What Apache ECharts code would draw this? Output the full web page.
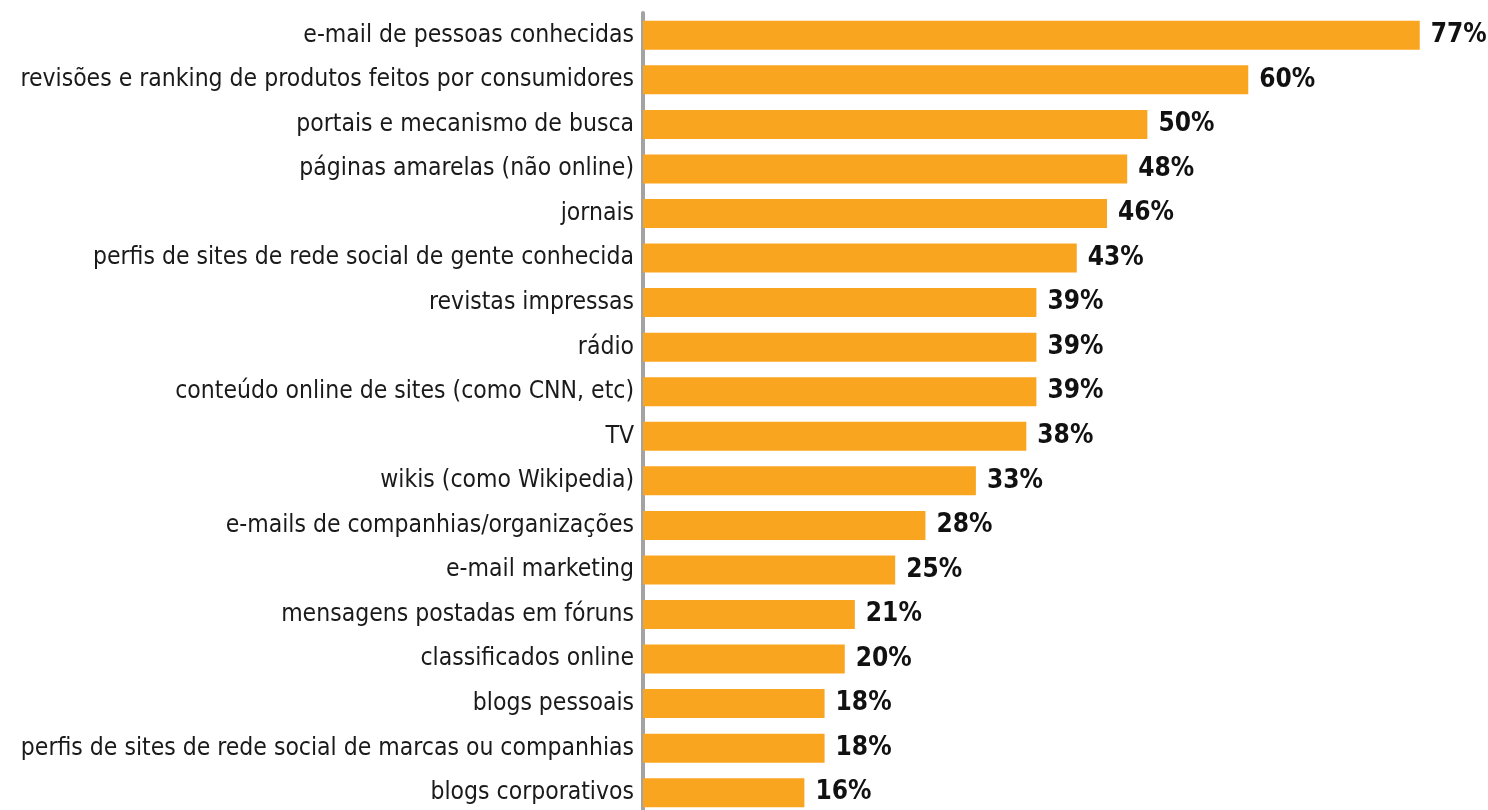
<!DOCTYPE html>
<html>
<head>
<meta charset="utf-8">
<script src="https://cdn.jsdelivr.net/npm/echarts@6/dist/echarts.min.js"></script>
<style>
html,body{margin:0;padding:0;background:#fff;}
#chart{width:1488px;height:810px;}
</style>
</head>
<body>
<div id="chart"></div>
<script>
const categories = [
  "e-mail de pessoas conhecidas",
  "revisões e ranking de produtos feitos por consumidores",
  "portais e mecanismo de busca",
  "páginas amarelas (não online)",
  "jornais",
  "perfis de sites de rede social de gente conhecida",
  "revistas impressas",
  "rádio",
  "conteúdo online de sites (como CNN, etc)",
  "TV",
  "wikis (como Wikipedia)",
  "e-mails de companhias/organizações",
  "e-mail marketing",
  "mensagens postadas em fóruns",
  "classificados online",
  "blogs pessoais",
  "perfis de sites de rede social de marcas ou companhias",
  "blogs corporativos"
];
const values = [77, 60, 50, 48, 46, 43, 39, 39, 39, 38, 33, 28, 25, 21, 20, 18, 18, 16];

const chart = echarts.init(document.getElementById('chart'));
chart.setOption({
  animation: false,
  backgroundColor: '#ffffff',
  grid: { left: 643, top: 13, height: 802, width: 807, containLabel: false, outerBoundsMode: 'none' },
  xAxis: {
    type: 'value', min: 0, max: 80,
    show: false
  },
  yAxis: {
    type: 'category',
    data: categories,
    inverse: true,
    axisLine: { show: true, lineStyle: { color: '#a3a3a3', width: 4 } },
    axisTick: { show: false },
    axisLabel: {
      margin: 9,
      color: '#1a1a1a',
      fontFamily: '"DejaVu Sans Condensed", sans-serif',
      fontSize: 24.5
    }
  },
  series: [{
    type: 'bar',
    data: values,
    barWidth: 29,
    itemStyle: { color: '#F9A51F' },
    label: {
      show: true,
      position: 'right',
      distance: 11,
      formatter: '{c}%',
      color: '#111',
      fontWeight: 'bold',
      fontFamily: '"DejaVu Sans Condensed", sans-serif',
      fontSize: 26
    }
  }]
});
</script>
</body>
</html>
